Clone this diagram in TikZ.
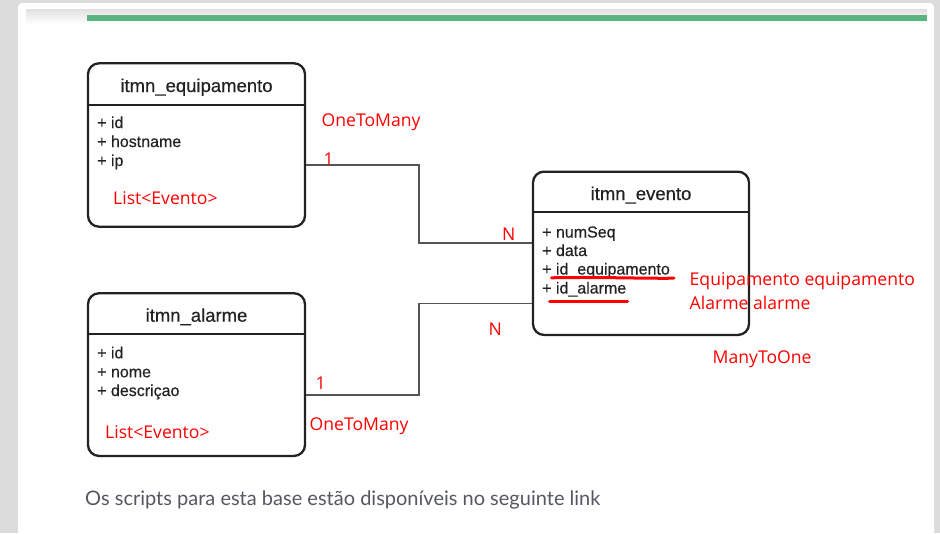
\documentclass[tikz,border=0pt]{standalone}
\usepackage{fontspec}
\setmainfont{Liberation Sans}[FakeBold=0.4]
\newfontfamily\boxfont{Liberation Sans}[FakeBold=0.4]
\newfontfamily\redfont{Open Sans}
\newfontfamily\pagefont{Lato}
\definecolor{pagegray}{HTML}{DCDCDC}
\definecolor{barline}{HTML}{5BB381}
\definecolor{ink}{HTML}{222222}
\definecolor{connc}{HTML}{555555}
\definecolor{notered}{HTML}{FF0000}
\definecolor{bottomtxt}{HTML}{555862}
\usetikzlibrary{calc}
\begin{document}
\begin{tikzpicture}[x=1pt,y=-1pt,
  tbl/.style={draw=ink, line width=2.3pt, rounded corners=11pt, fill=white, inner sep=0pt},
  sepline/.style={draw=ink, line width=2pt},
  ttl/.style={anchor=base, font=\boxfont\fontsize{18.5}{20}\selectfont, text=ink, inner sep=0pt},
  attr/.style={anchor=base west, font=\boxfont\fontsize{16}{18}\selectfont, text=ink, inner sep=0pt},
  rednote/.style={anchor=base west, font=\redfont\fontsize{17.6}{19}\selectfont, text=notered, inner sep=0pt},
  conn/.style={draw=connc, line width=1.5pt},
  uline/.style={draw=notered, line width=3pt, line cap=round}
]
\useasboundingbox (0,0) rectangle (940,533);
% page background
\fill[pagegray] (0,0) rectangle (940,533);
\fill[white, rounded corners=4pt] (18,3) rectangle (934,545);
\shade[top color=black!12, bottom color=white] (26,9) rectangle (927,24);
\fill[barline] (87,15) rectangle (927,21);

% tables
\node[tbl, minimum width=217pt, minimum height=163.4pt] (equip) at (196.5,145) {};
\draw[sepline] (88,105.3) -- (305,105.3);
\node[ttl] (equipt) at (196.5,92) {itmn\_equipamento};
\node[attr] (equipa1) at (97,128) {+ id};
\node[attr] (equipa2) at (97,147) {+ hostname};
\node[attr] (equipa3) at (97,166) {+ ip};
\node[rednote] (equipl) at (113,204) {List<Evento>};

\node[tbl, minimum width=217pt, minimum height=162.7pt] (alarme) at (196.5,374.6) {};
\draw[sepline] (88,334) -- (305,334);
\node[ttl] (alarmet) at (196.5,321.7) {itmn\_alarme};
\node[attr] (alarmea1) at (97,358.3) {+ id};
\node[attr] (alarmea2) at (97,377.3) {+ nome};
\node[attr] (alarmea3) at (97,396) {+ descriçao};
\node[rednote] (alarmel) at (105,438.3) {List<Evento>};

\node[tbl, minimum width=216pt, minimum height=163.3pt] (evento) at (641,253.3) {};
\draw[sepline] (533,212.3) -- (749,212.3);
\node[ttl] (eventot) at (641,200) {itmn\_evento};
\node[attr] (eventoa1) at (542,237.5) {+ numSeq};
\node[attr] (eventoa2) at (542,256) {+ data};
\node[attr] (eventoa3) at (542,274.5) {+ id\_equipamento};
\node[attr] (eventoa4) at (542,293.5) {+ id\_alarme};
\draw[uline] (551.5,277.8) .. controls (600,276.8) and (640,278.6) .. (674,278.2);
\draw[uline] (549.5,301) -- (627.5,301);

% connectors
\coordinate (c1a) at (equip.east |- 0,165);
\coordinate (c1b) at (evento.west |- 0,243);
\coordinate (c2a) at (alarme.east |- 0,395);
\coordinate (c2b) at (evento.west |- 0,303.5);
\draw[conn] (c1a) -- (419,165) |- (c1b);
\draw[conn] (c2a) -- (419,395) |- (c2b);

% red labels
\node[rednote] (l1) at (321.5,126) {OneToMany};
\node[rednote] (l2) at (323.5,165) {1};
\node[rednote] (l3) at (502,240) {N};
\node[rednote] (l4) at (488.5,335) {N};
\node[rednote] (l5) at (315.5,389) {1};
\node[rednote] (l6) at (309.5,430) {OneToMany};
\node[rednote] (l7) at (689.5,285) {Equipamento equipamento};
\node[rednote] (l8) at (689.5,309) {Alarme alarme};
\node[rednote] (l9) at (712.5,363.3) {ManyToOne};

% page text
\node[anchor=base west, inner sep=0pt, font=\pagefont\fontsize{20}{22}\selectfont, text=bottomtxt] (foot) at (85,505) {Os scripts para esta base estão disponíveis no seguinte link};
\end{tikzpicture}
\end{document}
